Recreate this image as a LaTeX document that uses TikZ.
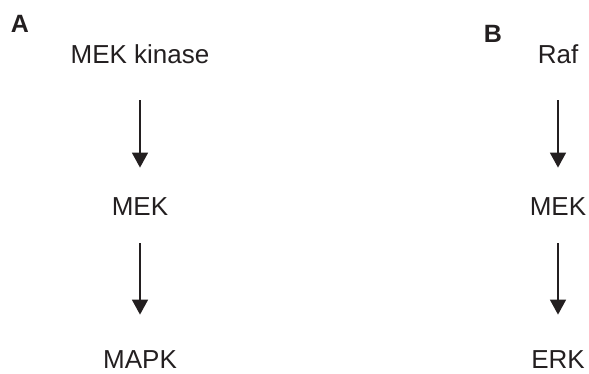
\documentclass[tikz,border=0pt]{standalone}
\usepackage{fontspec}
\setmainfont{Liberation Sans}
\usepackage{xcolor}
\usetikzlibrary{arrows.meta}
\definecolor{ink}{HTML}{231F20}
\tikzset{
  panel/.style={anchor=base, inner sep=0pt, text=ink, font=\fontsize{25}{30}\selectfont\bfseries},
  protein/.style={anchor=south, inner sep=0pt, text=ink, text height=19pt, text depth=0pt, font=\fontsize{26}{30}\selectfont},
  flow/.style={-{Triangle[length=15pt,width=16pt]}, line width=1.6pt, draw=ink}
}
\begin{document}
\begin{tikzpicture}[x=1pt, y=-1pt]
		\useasboundingbox (0,0) rectangle (589,373);
		% panel A
		\node[panel] (pa) at (20,32) {A};
		\node[protein] (mekk) at (140,64) {MEK kinase};
		\node[protein] (meka) at (140,216) {MEK};
		\node[protein] (mapk) at (140,369) {MAPK};
		\draw[flow, shorten <=36pt, shorten >=29pt] (mekk.south) -- (meka.north);
		\draw[flow, shorten <=27pt, shorten >=35pt] (meka.south) -- (mapk.north);
		% panel B
		\node[panel] (pb) at (493,42) {B};
		\node[protein] (raf) at (558,64) {Raf};
		\node[protein] (mekb) at (558,216) {MEK};
		\node[protein] (erk) at (558,369) {ERK};
		\draw[flow, shorten <=36pt, shorten >=29pt] (raf.south) -- (mekb.north);
		\draw[flow, shorten <=27pt, shorten >=35pt] (mekb.south) -- (erk.north);
	\end{tikzpicture}
\end{document}
